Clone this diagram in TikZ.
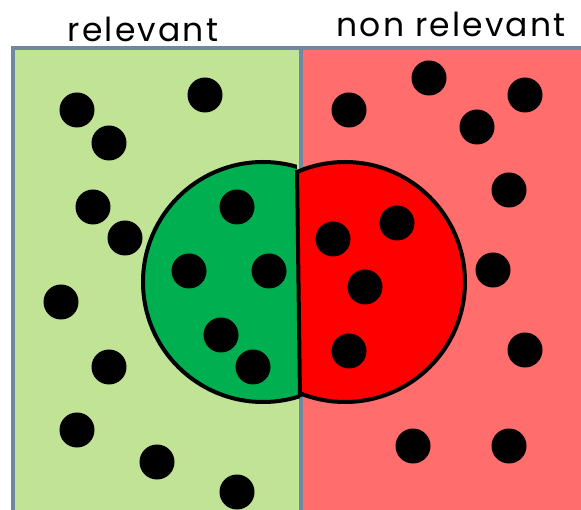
\documentclass[tikz,border=0pt]{standalone}
\usepackage{fontspec}
\setmainfont{Poppins}[LetterSpace=6.5]
\usetikzlibrary{positioning}

\definecolor{relgreen}{HTML}{C1E395}
\definecolor{nonred}{HTML}{FF6D6D}
\definecolor{setgreen}{HTML}{00AF50}
\definecolor{setred}{HTML}{FF0000}
\definecolor{frame}{HTML}{6F87A0}

\begin{document}
\begin{tikzpicture}[
    x=1pt, y=-1pt,
    doc/.style={circle, fill=black, inner sep=0pt, minimum size=35pt},
    title/.style={font=\fontsize{33}{38}\selectfont, inner sep=0pt, anchor=base}
]
\useasboundingbox (0,0) rectangle (581,510);
\clip (0,0) rectangle (581,510);

% two halves of the collection
\fill[relgreen] (13,48) rectangle (300,520);
\fill[nonred] (300,48) rectangle (590,520);
\draw[frame, line width=4pt] (13,520) -- (13,48) -- (590,48);
\draw[frame, line width=4pt] (300.5,48) -- (300.5,520);

\node[title] (rel) at (143,42) {relevant};
\node[title] (nonrel) at (451,37) {non relevant};

% retrieved set
\begin{scope}
  \clip (294.7,0) -- (301.5,510) -- (0,510) -- (0,0) -- cycle;
  \fill[setgreen] (263,282) circle[radius=120];
  \draw[line width=4pt] (263,282) circle[radius=120];
\end{scope}
\begin{scope}
  \clip (294.7,0) -- (301.5,510) -- (600,510) -- (600,0) -- cycle;
  \fill[setred] (345,282) circle[radius=120];
  \draw[line width=4pt] (345,282) circle[radius=120];
\end{scope}
\draw[line width=4pt] (297,170) -- (300,397);

% documents
\foreach \x/\y [count=\i] in {77/110, 109/143, 205/95, 93/207, 125/238, 61/302,
    109/367, 77/430, 157/462, 237/492}
  \node[doc] (r\i) at (\x,\y) {};
\foreach \x/\y [count=\i] in {237/207, 189/271, 269/271, 221/335, 253/367}
  \node[doc] (tp\i) at (\x,\y) {};
\foreach \x/\y [count=\i] in {333/239, 397/223, 365/287, 349/351}
  \node[doc] (fp\i) at (\x,\y) {};
\foreach \x/\y [count=\i] in {429/78, 525/95, 349/110, 477/127, 509/190, 493/270,
    525/350, 413/446, 509/446}
  \node[doc] (n\i) at (\x,\y) {};
\end{tikzpicture}
\end{document}
